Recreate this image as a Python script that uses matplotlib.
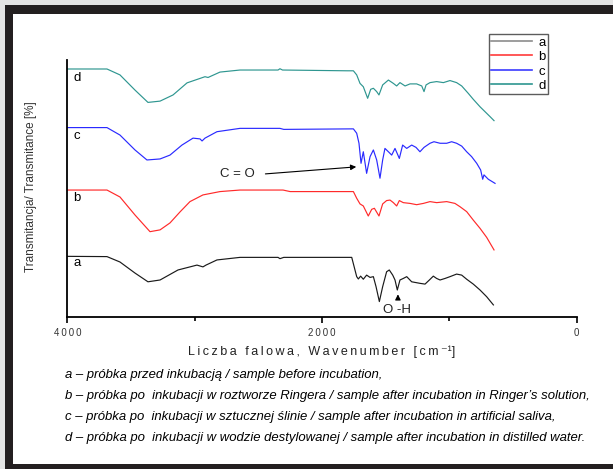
import matplotlib
matplotlib.use("Agg")
import matplotlib.pyplot as plt
from matplotlib.patches import Rectangle
from matplotlib.lines import Line2D

plt.rcParams['font.family'] = ['Liberation Sans', 'DejaVu Sans']

# ---------------- data (wavenumber [cm-1], transmittance, offset, a.u.) -------------
wn_a = [4000, 3689, 3587, 3469, 3367, 3272, 3131, 2982, 2935, 2911, 2825, 2644, 2345, 2330, 2300,
        1766, 1727, 1714, 1696, 1675, 1649, 1622, 1596, 1575, 1549, 1523, 1492, 1471, 1444, 1426,
        1408, 1387, 1361, 1334, 1295, 1230, 1190, 1156, 1125, 1099, 1072, 1033, 994, 942, 902,
        863, 811, 758, 706, 653]
t_a = [23.6, 23.5, 21.4, 17.1, 13.7, 14.4, 18.3, 20.2, 19.5, 20.2, 22.2, 23.2, 23.2, 22.7, 23.2,
       23.2, 15.7, 14.8, 15.9, 14.7, 16.3, 15.4, 15.7, 11.8, 6.0, 11.8, 17.6, 18.3, 16.3, 14.4,
       10.5, 14.4, 15.0, 15.7, 13.7, 13.1, 12.8, 14.4, 15.9, 15.0, 14.4, 15.0, 15.7, 16.7, 16.3,
       14.7, 12.8, 10.5, 7.9, 4.7]

wn_b = [4000, 3689, 3587, 3469, 3351, 3272, 3194, 3115, 3037, 2935, 2801, 2644, 2306, 2250,
        1766, 1753, 1727, 1701, 1675, 1636, 1609, 1588, 1552, 1523, 1492, 1465, 1439, 1413,
        1392, 1361, 1308, 1256, 1203, 1151, 1099, 1020, 955, 915, 863, 811, 758, 706, 648]
t_b = [49.4, 49.4, 46.7, 39.7, 33.2, 33.9, 36.6, 40.9, 44.9, 47.5, 48.8, 49.4, 49.4, 48.8,
       48.8, 48.8, 46.2, 44.0, 43.2, 39.3, 41.9, 42.3, 39.3, 44.0, 45.3, 45.5, 44.5, 43.2,
       45.3, 44.5, 44.2, 43.7, 44.2, 44.9, 44.5, 44.9, 44.2, 42.9, 41.0, 37.7, 34.5, 31.0, 26.1]

wn_c = [4000, 3689, 3587, 3469, 3375, 3272, 3194, 3100, 3013, 2958, 2942, 2919, 2825, 2644,
        2330, 2300, 1766, 1753, 1727, 1709, 1693, 1675, 1649, 1622, 1596, 1570, 1544, 1523,
        1505, 1478, 1452, 1426, 1392, 1366, 1334, 1295, 1261, 1230, 1198, 1151, 1120, 1072,
        1020, 981, 942, 902, 863, 824, 784, 753, 737, 727, 693, 640]
t_c = [73.7, 73.7, 70.8, 65.0, 61.1, 61.5, 63.0, 66.9, 69.6, 69.3, 68.5, 69.6, 72.1, 73.4,
       73.4, 73.0, 73.2, 73.2, 71.5, 67.6, 59.8, 64.3, 55.9, 62.4, 65.0, 61.1, 54.0, 61.1,
       65.6, 64.3, 63.0, 65.6, 61.7, 66.9, 65.6, 66.9, 66.0, 64.3, 66.0, 67.6, 68.2, 67.6,
       67.6, 68.2, 67.6, 66.5, 64.3, 62.4, 59.8, 57.2, 53.6, 55.3, 53.6, 52.0]

wn_d = [4000, 3689, 3587, 3469, 3367, 3272, 3170, 3060, 2919, 2895, 2801, 2644, 2345, 2330,
        2310, 1803, 1753, 1727, 1701, 1675, 1641, 1617, 1596, 1570, 1552, 1523, 1478, 1439,
        1413, 1387, 1347, 1308, 1256, 1216, 1198, 1182, 1151, 1099, 1046, 994, 942, 902, 850,
        811, 758, 719, 680, 648]
t_d = [96.5, 96.5, 94.2, 88.3, 83.5, 84.0, 86.4, 91.1, 93.5, 93.2, 95.3, 96.1, 96.1, 96.6,
       96.1, 95.8, 95.8, 94.2, 90.9, 89.6, 85.1, 88.6, 89.0, 87.7, 86.4, 90.3, 92.2, 90.9,
       89.9, 91.2, 89.9, 90.7, 90.7, 89.9, 87.7, 90.3, 91.2, 91.6, 91.2, 92.0, 91.2, 89.9, 87.0,
       84.7, 81.8, 79.9, 78.0, 76.4]

series_names = ['a', 'b', 'c', 'd']
series_colors = ['#1a1a1a', '#ff2a2a', '#2a2aff', '#2e9690']
legend_colors = ['#8c8c8c', '#ff3b3b', '#3b3bff', '#2e9690']
label_pos_t = [21.0, 46.3, 70.4, 93.0]

x_ticks = [4000, 2000, 0]
x_tick_labels = ['4\u20090\u20090\u20090', '2\u20090\u20090\u20090', '0']
x_minor = [3000, 1000]

caption_lines = [
    "a \u2013 pr\u00f3bka przed inkubacj\u0105 / sample before incubation,",
    "b \u2013 pr\u00f3bka po  inkubacji w roztworze Ringera / sample after incubation in Ringer\u2019s solution,",
    "c \u2013 pr\u00f3bka po  inkubacji w sztucznej \u015blinie / sample after incubation in artificial saliva,",
    "d \u2013 pr\u00f3bka po  inkubacji w wodzie destylowanej / sample after incubation in distilled water.",
]

# ---------------- figure ----------------
W, H = 613, 469
fig = plt.figure(figsize=(W / 100, H / 100), dpi=100)
fig.patch.set_facecolor('white')

def fx(px):
    return px / W

def fy(py):
    return 1 - py / H

# outer frame
fig.patches.append(Rectangle((0, 0), 1, 1, transform=fig.transFigure,
                             facecolor='#e4e4e4', edgecolor='none', zorder=-3))
fig.patches.append(Rectangle((fx(5), fy(469)), 1, fy(5) - fy(469), transform=fig.transFigure,
                             facecolor='#231f20', edgecolor='none', zorder=-2))
fig.patches.append(Rectangle((fx(12.5), fy(464)), 1, fy(14) - fy(464), transform=fig.transFigure,
                             facecolor='white', edgecolor='none', zorder=-1))

ax = fig.add_axes([fx(67.4), fy(317), fx(576.5) - fx(67.4), fy(60) - fy(317)])
ax.set_facecolor('none')

series = [(wn_a, t_a), (wn_b, t_b), (wn_c, t_c), (wn_d, t_d)]
for (wn, t), c in zip(series, series_colors):
    ax.plot(wn, t, color=c, lw=0.85, solid_joinstyle='round')

for name, tp in zip(series_names, label_pos_t):
    ax.text(3955, tp, name, fontsize=9.5, ha='left', va='center', color='black')

ax.set_xlim(4000, 0)
ax.set_ylim(0, 100)
for s in ['top', 'right']:
    ax.spines[s].set_visible(False)
ax.spines['left'].set_linewidth(1.3)
ax.spines['bottom'].set_linewidth(1.3)
ax.set_yticks([])
ax.set_xticks(x_ticks)
ax.set_xticklabels(x_tick_labels, fontsize=7, color='#333333')
ax.set_xticks(x_minor, minor=True)
ax.tick_params(axis='x', which='major', direction='out', length=4, width=1.2, pad=4)
ax.tick_params(axis='x', which='minor', direction='out', length=3, width=1.2)

# annotations
ax.annotate('', xy=(1709, 58.5), xytext=(2466, 55.6),
            arrowprops=dict(arrowstyle='-|>', color='black', lw=0.8, mutation_scale=8))
ax.text(2664, 55.6, 'C = O', fontsize=9.5, ha='center', va='center', color='#222222')
ax.annotate('', xy=(1403, 9.9), xytext=(1403, 6.0),
            arrowprops=dict(arrowstyle='-|>', color='black', lw=0.8, mutation_scale=8))
ax.text(1411, 2.8, 'O -H', fontsize=9.5, ha='center', va='center', color='#222222')

# legend
handles = [Line2D([], [], color=c, lw=1.2) for c in legend_colors]
leg = fig.legend(handles, series_names, loc='upper left',
                 bbox_to_anchor=(fx(489), fy(34)), fontsize=9.5, frameon=True,
                 fancybox=False, edgecolor='#333333', handlelength=3.1,
                 handletextpad=0.45, labelspacing=0.17, borderpad=0.18,
                 borderaxespad=0.0)
leg.get_frame().set_linewidth(1.0)

# axis titles
fig.text(fx(31), fy(187), 'Transmitancja/ Transmitance [%]', rotation=90,
         fontsize=8.5, ha='center', va='center', color='#333333')
xlabel = '\u2009'.join('Liczba falowa, Wavenumber [cm') + '\u2009\u207b\u00b9]'
fig.text(fx(321.5), fy(352), xlabel, fontsize=9, ha='center', va='center', color='#222222')

for line, py in zip(caption_lines, [375, 396, 417, 438]):
    fig.text(fx(65), fy(py), line, fontsize=9.45, style='italic', ha='left', va='center',
             color='black')

fig.savefig('out.png', dpi=100)
